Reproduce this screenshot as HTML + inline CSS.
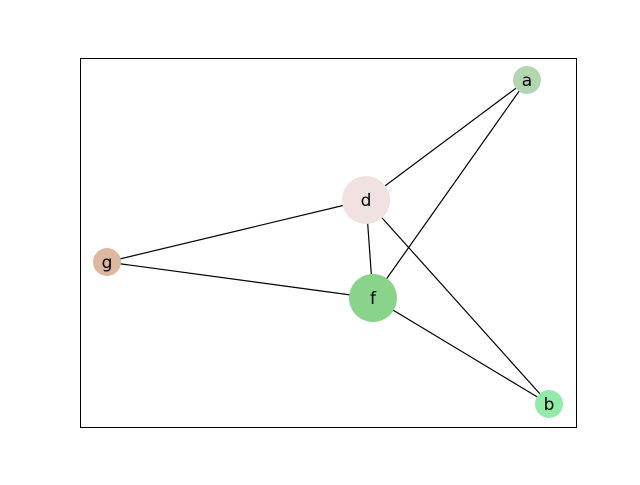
<!DOCTYPE html>
<html><head><style>html,body{margin:0;padding:0;background:#fff}</style></head><body>
<svg width="640" height="480" viewBox="0 0 640 480" xmlns="http://www.w3.org/2000/svg">
<rect x="0" y="0" width="640" height="480" fill="#fff"/>
<rect x="80.5" y="58.5" width="496" height="369" fill="none" stroke="#000" stroke-width="1"/>
<g stroke="#000" stroke-width="1.2">
<line x1="527" y1="80" x2="366" y2="200"/>
<line x1="527" y1="80" x2="373" y2="298"/>
<line x1="366" y1="200" x2="107" y2="262"/>
<line x1="366" y1="200" x2="373" y2="298"/>
<line x1="366" y1="200" x2="549" y2="404"/>
<line x1="107" y1="262" x2="373" y2="298"/>
<line x1="373" y1="298" x2="549" y2="404"/>
</g>
<circle cx="527" cy="80" r="14" fill="#b2d6b2"/>
<circle cx="366" cy="200" r="24" fill="#f0e2e0"/>
<circle cx="107" cy="262" r="14" fill="#dcb8a0"/>
<circle cx="373" cy="298" r="24" fill="#88d48a"/>
<circle cx="549" cy="404" r="14" fill="#90eca8"/>
<g font-family="DejaVu Sans, Liberation Sans, sans-serif" font-size="17" text-anchor="middle" fill="#000">
<text x="527" y="86">a</text>
<text x="366" y="206">d</text>
<text x="107" y="268">g</text>
<text x="373" y="304">f</text>
<text x="549" y="410">b</text>
</g>
</svg>
</body></html>
